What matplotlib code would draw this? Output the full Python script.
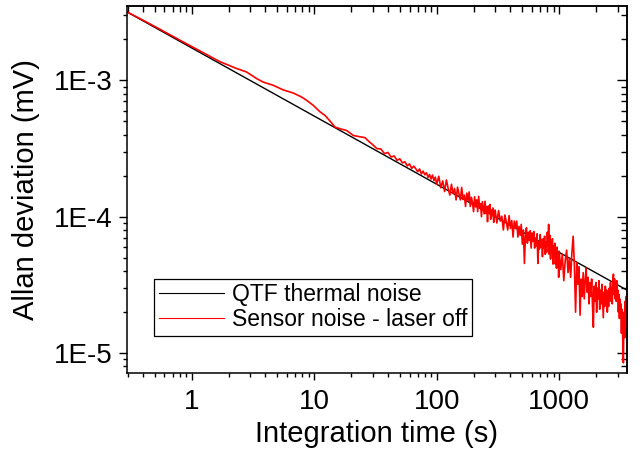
import numpy as np
import matplotlib
matplotlib.use('Agg')
import matplotlib.pyplot as plt
from matplotlib.ticker import LogLocator, FixedLocator, FixedFormatter, NullFormatter
from matplotlib.legend_handler import HandlerLine2D

plt.rcParams['font.family'] = ['Liberation Sans', 'DejaVu Sans']

# QTF thermal noise (straight line on log-log, two end points)
thermal_t = [0.295, 3575]
thermal_y = [3.18e-3, 2.9e-5]

# sensor noise, laser off -- values in units of 1e-5 mV
smooth_t = [0.295, 0.4, 0.6, 0.8, 1.0, 1.3, 1.7, 2.33, 2.81, 3.39, 3.84, 4.64, 5.6,
            6.75, 7.9, 8.68, 9.84, 11.1, 12.25, 13.5, 14.8, 16.5, 18.4, 20.9, 23.5,
            26, 28]
smooth_y = [318, 276, 227, 197, 177, 156, 137, 122, 115, 103, 97, 91.9, 85,
            80.7, 75.4, 71.3, 65.5, 59, 55.3, 50.2, 45.4, 44.0, 42.9, 39.4, 38.6,
            38.0, 35.6]

seg1_t = [30, 32.5, 35, 37.5, 40, 42.5, 45, 47.5, 50, 52.5, 55, 57.5, 60, 62.5, 65,
          67.5, 70, 72.5, 75, 77.5, 80, 82.5, 85, 87.5, 90, 92.5, 95, 97.5]
seg1_y = [33.8, 31.6, 31.4, 29.0, 29.6, 27.4, 27.9, 25.9, 26.6, 24.8, 25.3, 23.6,
          24.4, 22.6, 23.5, 22.5, 21.4, 22.4, 20.6, 21.6, 20.3, 21.0, 19.4, 20.4,
          18.9, 20.2, 18.4, 19.5]

seg2_t = [100, 104, 108, 112, 116, 120, 124, 128, 132, 136, 140, 144, 148, 152, 156,
          160, 164, 168, 172, 176, 180, 184, 188, 192, 196, 200, 204, 208, 212, 216,
          220, 224, 228, 232, 236, 240, 244, 248, 252, 256, 260, 264, 268, 272, 276,
          280, 284, 288, 292, 296]
seg2_y = [17.3, 19.8, 16.3, 18.3, 15.3, 18.6, 16.2, 14.4, 17.3, 14.8, 16.1, 13.3,
          16.5, 14.7, 13.3, 16.4, 13.4, 14.4, 11.9, 14.9, 13.1, 15.2, 11.9, 13.9,
          12.7, 10.9, 14.0, 11.8, 13.3, 10.9, 14.1, 11.6, 12.5, 10.0, 12.9, 11.6,
          10.5, 13.0, 10.6, 11.9, 9.2, 12.0, 10.7, 12.3, 9.6, 11.2, 10.2, 11.6,
          9.1, 10.7]

seg3_t = [300, 310, 320, 330, 340, 350, 360, 370, 380, 390, 400, 410, 420, 430, 440,
          450, 460, 470, 480, 490, 500, 510, 520, 530, 540, 550, 560, 570, 580, 590,
          600, 610, 620, 630, 640, 650, 660, 670, 680, 690, 700, 710, 720, 730, 740,
          750, 760, 770, 780, 790, 800, 810, 820, 830, 840, 850, 860, 870, 880, 890,
          900, 910, 920, 930, 940, 950, 960, 970, 980, 990]
seg3_y = [11.2, 9.0, 11.1, 9.3, 10.1, 8.0, 10.3, 9.2, 8.0, 10.2, 8.2, 9.4, 7.1, 9.3,
          8.2, 9.3, 7.1, 8.5, 7.3, 8.8, 6.3, 8.0, 4.55, 7.2, 8.3, 6.4, 7.7, 6.7, 7.9,
          5.9, 7.6, 6.6, 7.8, 5.9, 7.0, 6.1, 7.5, 4.55, 6.6, 5.8, 7.4, 6.0, 6.8, 5.1,
          6.9, 5.9, 7.2, 5.3, 6.5, 5.5, 7.7, 6.2, 8.8, 5.3, 7.3, 4.9, 6.5, 5.5, 6.9,
          4.5, 6.1, 5.2, 6.4, 4.5, 5.6, 4.2, 6.0, 4.7, 5.3, 3.6]

seg4_t = [1000, 1030, 1060, 1090, 1120, 1150, 1180, 1210, 1240, 1270, 1300, 1330,
          1360, 1390, 1420, 1450, 1480, 1510, 1540, 1570, 1600, 1630, 1660, 1690,
          1720, 1750, 1780, 1810, 1840, 1870, 1900, 1930, 1960, 1990, 2020, 2050,
          2080, 2110, 2140, 2170, 2200, 2230, 2260, 2290, 2320, 2350, 2380, 2410,
          2440, 2470, 2500, 2530, 2560, 2590, 2620, 2650, 2680, 2710, 2740, 2770,
          2800, 2830, 2860, 2890, 2920, 2950, 2980, 3010, 3040, 3070, 3100, 3130,
          3160, 3190, 3220, 3250, 3280, 3310, 3340, 3370, 3400, 3430, 3460, 3490,
          3520, 3550, 3575]
seg4_y = [5.6, 4.1, 5.3, 3.4, 4.8, 5.7, 3.9, 5.0, 3.6, 5.5, 7.2, 4.4, 2.0, 4.6, 3.2,
          4.3, 1.9, 3.5, 2.6, 3.9, 2.5, 3.4, 4.2, 2.8, 3.6, 2.3, 3.3, 2.6, 3.5, 2.2,
          1.55, 3.1, 2.4, 3.3, 2.0, 3.0, 2.5, 3.4, 2.1, 2.9, 2.3, 3.2, 2.4, 1.82, 2.8,
          2.2, 3.1, 2.3, 2.9, 2.0, 2.7, 2.2, 3.0, 2.4, 3.3, 2.6, 3.0, 2.3, 3.3, 3.8,
          2.7, 3.5, 2.5, 3.3, 2.4, 3.4, 2.6, 2.9, 2.0, 2.7, 1.8, 2.5, 1.9, 2.3, 1.4,
          2.1, 1.6, 1.1, 0.85, 1.7, 2.0, 1.3, 2.4, 1.5, 2.6, 1.7, 2.5]

sensor_t = smooth_t + seg1_t + seg2_t + seg3_t + seg4_t
sensor_y = np.array(smooth_y + seg1_y + seg2_y + seg3_y + seg4_y) * 1e-5

x_ticks = [1, 10, 100, 1000]
x_labels = ['1', '10', '100', '1000']
y_ticks = [1e-5, 1e-4, 1e-3]
y_labels = ['1E-5', '1E-4', '1E-3']


class InsetLine(HandlerLine2D):
    # legend line that leaves a gap on its left, like the Origin legend
    def create_artists(self, legend, orig_handle, xdescent, ydescent, width,
                       height, fontsize, trans):
        arts = super().create_artists(legend, orig_handle, xdescent, ydescent,
                                      width, height, fontsize, trans)
        for a in arts:
            xd = a.get_xdata()
            if len(xd) == 2:
                a.set_xdata([xd[0] + 0.2 * (xd[1] - xd[0]), xd[1]])
        return arts


fig = plt.figure(figsize=(6.44, 4.54), dpi=100)
ax = fig.add_axes([0.1967, 0.1778, 0.7769, 0.8096])

ax.plot(thermal_t, thermal_y, color='black', lw=1.0, label='QTF thermal noise')
ax.plot(sensor_t, sensor_y, color='red', lw=1.2, label='Sensor noise - laser off')

ax.set_xscale('log')
ax.set_yscale('log')
ax.set_xlim(0.295, 3575)
ax.set_ylim(7.13e-6, 3.52e-3)

ax.xaxis.set_major_locator(FixedLocator(x_ticks))
ax.xaxis.set_major_formatter(FixedFormatter(x_labels))
ax.xaxis.set_minor_locator(LogLocator(base=10, subs=np.arange(2, 10)))
ax.xaxis.set_minor_formatter(NullFormatter())
ax.yaxis.set_major_locator(FixedLocator(y_ticks))
ax.yaxis.set_major_formatter(FixedFormatter(y_labels))
ax.yaxis.set_minor_locator(LogLocator(base=10, subs=np.arange(2, 10)))
ax.yaxis.set_minor_formatter(NullFormatter())

for s in ax.spines.values():
    s.set_linewidth(1.1)

# left/bottom ticks outward, top/right inward (Origin style)
ax.tick_params(axis='both', which='both', labelsize=20, width=1.0)
ax.tick_params(axis='x', which='major', direction='out', length=5, pad=6)
ax.tick_params(axis='x', which='minor', direction='out', length=3)
ax.tick_params(axis='y', which='major', direction='out', length=6, pad=4)
ax.tick_params(axis='y', which='minor', direction='out', length=3)

axt = ax.secondary_xaxis('top')
axt.xaxis.set_major_locator(FixedLocator(x_ticks))
axt.xaxis.set_minor_locator(LogLocator(base=10, subs=np.arange(2, 10)))
axt.tick_params(which='major', direction='in', length=6, labeltop=False, width=1.0)
axt.tick_params(which='minor', direction='in', length=4, labeltop=False, width=1.0)
axt.spines['top'].set_linewidth(1.1)
axr = ax.secondary_yaxis('right')
axr.yaxis.set_major_locator(FixedLocator(y_ticks))
axr.yaxis.set_minor_locator(LogLocator(base=10, subs=np.arange(2, 10)))
axr.tick_params(which='major', direction='in', length=7, labelright=False, width=1.0)
axr.tick_params(which='minor', direction='in', length=4, labelright=False, width=1.0)
axr.spines['right'].set_linewidth(1.1)

ax.set_xlabel('Integration time (s)', fontsize=21, labelpad=4)
ax.set_ylabel('Allan deviation (mV)', fontsize=21, labelpad=10)

leg = ax.legend(loc='lower left', bbox_to_anchor=(0.0546, 0.1015), borderaxespad=0,
                fontsize=16.5, fancybox=False, framealpha=1, edgecolor='black',
                handlelength=2.84, handletextpad=0.35, borderpad=0.2,
                labelspacing=0.1, handler_map={plt.Line2D: InsetLine()})
leg.get_frame().set_linewidth(0.9)
leg.legend_handles[0].set_linewidth(0.8)
leg.legend_handles[1].set_linewidth(0.8)

fig.savefig('out.png', dpi=100)
